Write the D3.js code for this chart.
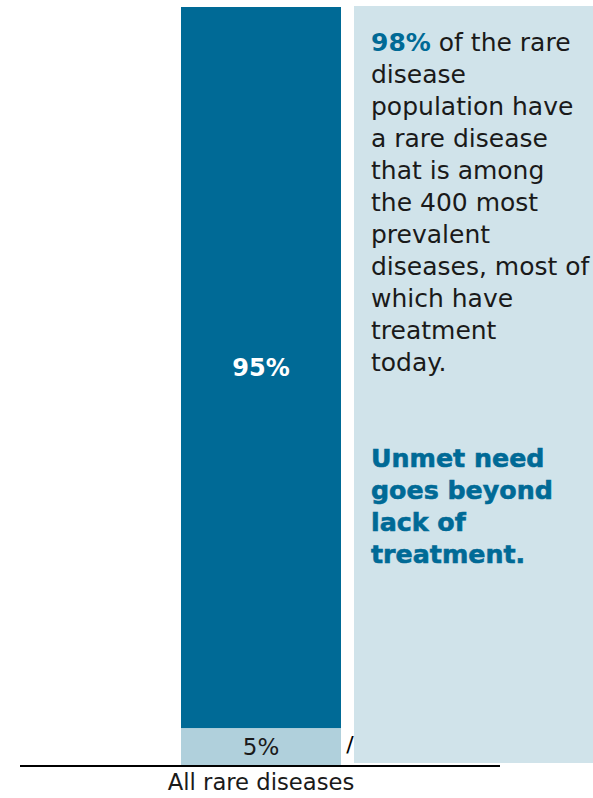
<!DOCTYPE html>
<html><head><meta charset="utf-8">
<script src="https://cdn.jsdelivr.net/npm/d3@7"></script>
<style>body{margin:0;background:#fff}svg{display:block}</style>
</head><body>
<div id="chart"></div>
<script>
const categories = ["All rare diseases"];
const segments = ["Top 400 prevalent", "Other"];
const values = [[95, 5]];
const segmentLabels = ["95%", "5%"];
const noteLines = ["of the rare","disease","population have","a rare disease","that is among","the 400 most","prevalent","diseases, most of","which have","treatment","today."];
const noteHighlight = "98%";
const boldLines = ["Unmet need","goes beyond","lack of","treatment."];

const W = 593, H = 798;
const svg = d3.select("#chart").append("svg").attr("width", W).attr("height", H);
const font = "'DejaVu Sans', sans-serif";

const x = d3.scaleBand().domain(categories).range([20, 500]).paddingInner(0).paddingOuter(0);
const barX = 181, barW = 160;
const y = d3.scaleLinear().domain([0, 100]).range([766, 7]);
const colors = ["#006a96", "#b0d0dc"];

// panel
svg.append("rect").attr("x", 354).attr("y", 6).attr("width", W - 354).attr("height", 757).attr("fill", "#d0e3ea");

// stacked bar
const stackData = categories.map((c, i) => { const o = {cat: c}; segments.forEach((s, j) => o[s] = values[i][j]); return o; });
const series = d3.stack().keys(segments.slice().reverse())(stackData);
series.forEach(s => {
  const j = segments.indexOf(s.key);
  s.forEach(d => {
    svg.append("rect").attr("x", barX).attr("width", barW)
      .attr("y", y(d[1])).attr("height", y(d[0]) - y(d[1])).attr("fill", colors[j]);
    const cy = (y(d[0]) + y(d[1])) / 2;
    svg.append("text").attr("x", barX + barW / 2).attr("y", cy).attr("dy", "0.36em")
      .attr("text-anchor", "middle").attr("font-family", font)
      .attr("font-size", j === 0 ? 24 : 23).attr("font-weight", j === 0 ? 700 : 400)
      .attr("fill", j === 0 ? "#fff" : "#1a1a1a").text(segmentLabels[j]);
  });
});

// slash
svg.append("text").attr("x", 350).attr("y", 752).attr("text-anchor", "middle").attr("font-family", font).attr("font-size", 22).attr("fill", "#000").text("/");

// axis
const axis = svg.append("g").attr("transform", "translate(0,766)").call(d3.axisBottom(x).tickSize(0).tickPadding(8));
axis.select(".domain").attr("stroke", "#000").attr("stroke-width", 2).attr("d", "M20,0H500");
axis.selectAll("text").attr("font-family", font).attr("font-size", 22.7).attr("fill", "#1a1a1a")
  .attr("x", barX + barW / 2 - x(categories[0]) - x.bandwidth() / 2);

// note text
const tx = 371;
const note = svg.append("g").attr("font-family", font).attr("font-size", 25).attr("fill", "#1a1a1a");
const first = note.append("text").attr("x", tx).attr("y", 51);
first.append("tspan").attr("font-weight", 700).attr("fill", "#006a96").text(noteHighlight);
first.append("tspan").text(" " + noteLines[0]);
noteLines.slice(1).forEach((l, i) => {
  note.append("text").attr("x", tx).attr("y", 51 + 32 * (i + 1)).text(l);
});
const bold = svg.append("g").attr("font-family", font).attr("font-size", 25.3).attr("font-weight", 700).attr("fill", "#006a96");
boldLines.forEach((l, i) => {
  bold.append("text").attr("x", tx).attr("y", 467 + 32 * i).attr("stroke", "#006a96").attr("stroke-width", 0.6).text(l);
});
</script>
</body></html>
